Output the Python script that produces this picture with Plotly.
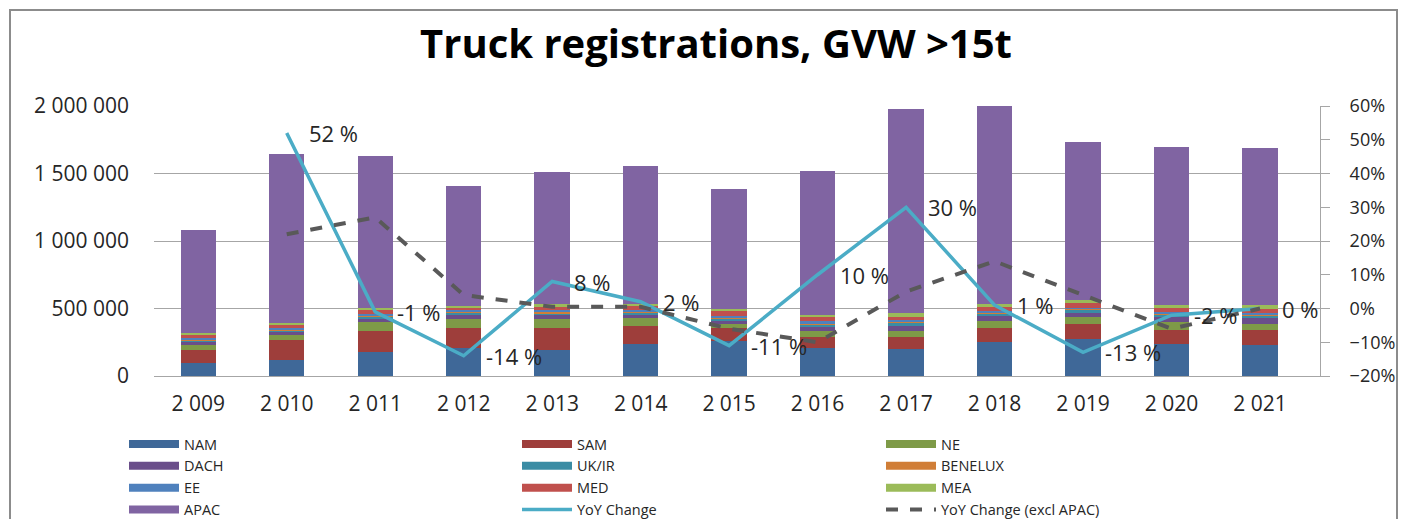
import plotly.graph_objects as go

# Registration year categories
years = ["2 009", "2 010", "2 011", "2 012", "2 013", "2 014", "2 015",
         "2 016", "2 017", "2 018", "2 019", "2 020", "2 021"]

# Registrations by region (units)
nam     = [99000, 116000, 176000, 210000, 193000, 235000, 262000, 207000, 202000, 252000, 274000, 240000, 227000]
sam     = [94000, 148000, 156000, 148000, 165000, 136000, 91000, 81000, 89000, 101000, 111000, 99000, 111000]
ne      = [35000, 39000, 67000, 67000, 62000, 57000, 32000, 42000, 44000, 54000, 52000, 59000, 49000]
dach    = [27000, 25000, 25000, 30000, 32000, 25000, 25000, 32000, 35000, 37000, 32000, 40000, 42000]
uk_ir   = [10000, 12000, 14000, 15000, 14000, 16000, 14000, 18000, 25000, 17000, 22000, 20000, 20000]
benelux = [6000, 8000, 8000, 9000, 9000, 10000, 8000, 10000, 7000, 7000, 7000, 7000, 7000]
ee      = [8000, 10000, 10000, 11000, 11000, 12000, 12000, 14000, 10000, 10000, 8000, 10000, 10000]
med     = [30000, 20000, 32000, 17000, 28000, 24000, 35000, 30000, 27000, 32000, 35000, 30000, 33000]
mea     = [12000, 15000, 18000, 14000, 17000, 16000, 20000, 21000, 27000, 25000, 25000, 24000, 30000]
apac    = [760000, 1251000, 1124000, 886000, 980000, 1025000, 886000, 1064000, 1512000, 1465000, 1167000, 1167000, 1160000]

# Year-over-year change, percent
yoy           = [None, 52, -1, -14, 8, 2, -11, 10, 30, 1, -13, -2, 0]
yoy_excl_apac = [None, 22, 27, 4, 0.5, 0.5, -6, -10, 5, 14, 4, -6, 0]

regions = [
    ("NAM", nam, "#3F6898"),
    ("SAM", sam, "#9E3E3B"),
    ("NE", ne, "#7E9A47"),
    ("DACH", dach, "#6A4E8A"),
    ("UK/IR", uk_ir, "#3A8CA4"),
    ("BENELUX", benelux, "#D07E37"),
    ("EE", ee, "#4F81BD"),
    ("MED", med, "#C0504D"),
    ("MEA", mea, "#9BBB59"),
    ("APAC", apac, "#8064A2"),
]
YOY_COLOR = "#4BACC6"
YOY_EX_COLOR = "#595959"

FONT = "Open Sans"
TXT = "#262626"
fig = go.Figure()

for name, vals, col in regions:
    fig.add_trace(go.Bar(x=years, y=vals, name=name, marker=dict(color=col, line=dict(width=0)),
                         showlegend=False))

fig.add_trace(go.Scatter(x=years, y=yoy, mode="lines", yaxis="y2", showlegend=False,
                         line=dict(color=YOY_COLOR, width=3.5)))
fig.add_trace(go.Scatter(x=years, y=yoy_excl_apac, mode="lines", yaxis="y2", showlegend=False,
                         line=dict(color=YOY_EX_COLOR, width=4, dash="dash")))

# value labels for the YoY line
for yr, v in zip(years, yoy):
    if v is None:
        continue
    fig.add_annotation(x=yr, y=v, yref="y2", text=f"{v:d} %", showarrow=False,
                       xanchor="left", yanchor="middle", xshift=20,
                       font=dict(family=FONT, size=22, color=TXT))

# legend entries: three columns
legend_cols = {
    "legend": ["NAM", "DACH", "EE", "APAC"],
    "legend2": ["SAM", "UK/IR", "MED", "YoY Change"],
    "legend3": ["NE", "BENELUX", "MEA", "YoY Change (excl APAC)"],
}
col_of = {name: col for name, _, col in regions}
for lg, names in legend_cols.items():
    for nm in names:
        if nm == "YoY Change":
            line = dict(color=YOY_COLOR, width=3.5)
        elif nm.startswith("YoY Change ("):
            line = dict(color=YOY_EX_COLOR, width=4, dash="dash")
        else:
            line = dict(color=col_of[nm], width=8)
        fig.add_trace(go.Scatter(x=[None], y=[None], mode="lines", name=nm, line=line,
                                 legend=lg, yaxis="y2", hoverinfo="skip"))

W, H = 1402, 519
L, R, T, B = 154, 82, 106, 143
pw, ph = W - L - R, H - T - B

def px_x(x):
    return (x - L) / pw

def px_y(y):
    return (H - B - y) / ph

leg_common = dict(orientation="v", xanchor="left", yanchor="top", bgcolor="rgba(0,0,0,0)",
                  font=dict(family=FONT, size=14.5, color=TXT), itemwidth=50,
                  tracegroupgap=0, traceorder="normal")

fig.update_layout(
    width=W, height=H,
    margin=dict(l=L, r=R, t=T, b=B, autoexpand=False),
    paper_bgcolor="white", plot_bgcolor="white",
    separators=". ",
    barmode="stack", bargap=0.6,
    title=dict(text="<b>Truck registrations, GVW >15t</b>", x=716 / W, xanchor="center",
               y=1 - 44 / H, yanchor="middle",
               font=dict(family=FONT, size=40, color="#000000")),
    xaxis=dict(type="category", showgrid=False, showline=True, linecolor="#A6A6A6", linewidth=1,
               ticks="", tickfont=dict(family=FONT, size=21, color=TXT),
               ticklabelstandoff=9),
    yaxis=dict(range=[0, 2000000], dtick=500000, tickformat=",d", showgrid=True,
               gridcolor="#A6A6A6", gridwidth=1, zeroline=False, showline=False,
               tickfont=dict(family=FONT, size=21, color=TXT), ticklabelstandoff=24),
    yaxis2=dict(overlaying="y", side="right", range=[-20, 60], dtick=10, ticksuffix="%",
                showgrid=False, zeroline=False, showline=True, linecolor="#A6A6A6",
                ticks="outside", ticklen=9, tickcolor="#A6A6A6",
                tickfont=dict(family=FONT, size=18, color=TXT), ticklabelstandoff=16),
    legend=dict(leg_common, x=px_x(124), y=px_y(428)),
    legend2=dict(leg_common, x=px_x(517), y=px_y(428)),
    legend3=dict(leg_common, x=px_x(881), y=px_y(428)),
    showlegend=True,
)

# outer chart border
fig.add_shape(type="rect", xref="paper", yref="paper",
              x0=px_x(10), x1=px_x(1397), y0=px_y(530), y1=px_y(10),
              line=dict(color="#8C8C8C", width=2), fillcolor="rgba(0,0,0,0)", layer="below")

fig.write_html("out.html")
